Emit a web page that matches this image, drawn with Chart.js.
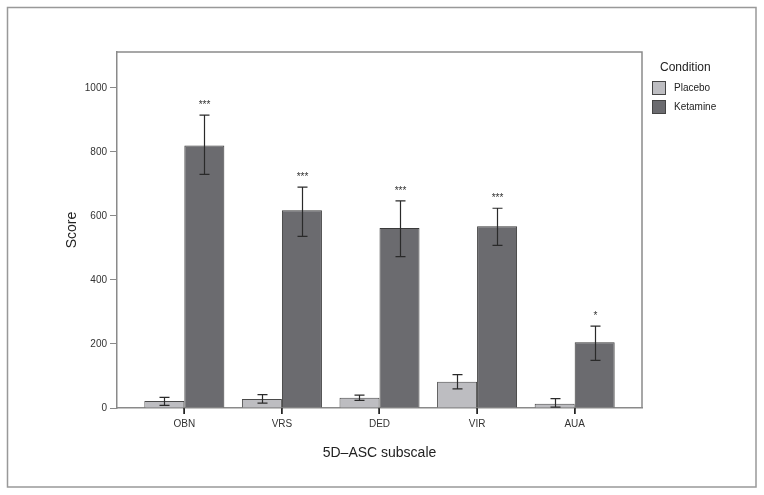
<!DOCTYPE html>
<html>
<head>
<meta charset="utf-8">
<script src="https://cdn.jsdelivr.net/npm/chart.js@4"></script>
<style>
  html, body { margin: 0; padding: 0; background: #fff; }
  #wrap { width: 764px; height: 495px; }
</style>
</head>
<body>
<div id="wrap"><canvas id="chart" width="764" height="495"></canvas></div>
<script>
// 5D-ASC subscale scores, placebo vs ketamine (mean with error bars)
const subscales = ['OBN', 'VRS', 'DED', 'VIR', 'AUA'];

const placebo    = [22, 28, 32, 82, 13];
const placeboLo  = [8, 15, 24, 60, 3];
const placeboHi  = [33, 42, 40, 104, 29];

const ketamine   = [820, 618, 562, 568, 205];
const ketamineLo = [730, 536, 473, 508, 149];
const ketamineHi = [915, 690, 647, 624, 256];

const signif     = ['***', '***', '***', '***', '*'];

const yTicks = [0, 200, 400, 600, 800, 1000];

const FONT = 'Liberation Sans, Arial, sans-serif';
const AXIS_GREY = '#8a8a8a';

const errBounds = [
  { lo: placeboLo, hi: placeboHi, marks: null },
  { lo: ketamineLo, hi: ketamineHi, marks: signif }
];

// --- frame, plot box, error bars, stars, legend ---
const decor = {
  id: 'decor',
  beforeDraw(chart) {
    const c = chart.ctx;
    c.save();
    c.strokeStyle = '#999';
    c.lineWidth = 1.5;
    c.strokeRect(7.5, 7.5, 748.5, 479.5);
    c.restore();
  },
  afterDatasetsDraw(chart) {
    const c = chart.ctx;
    const y = chart.scales.y;
    c.save();
    chart.data.datasets.forEach((ds, di) => {
      const meta = chart.getDatasetMeta(di);
      const eb = errBounds[di];
      meta.data.forEach((bar, i) => {
        const x = Math.round(bar.x) + 0.5;
        const yl = y.getPixelForValue(eb.lo[i]);
        const yh = y.getPixelForValue(eb.hi[i]);
        c.strokeStyle = '#2a2a2a';
        c.lineWidth = 1.2;
        c.beginPath();
        c.moveTo(x, yl); c.lineTo(x, yh);
        c.moveTo(x - 5, yl); c.lineTo(x + 5, yl);
        c.moveTo(x - 5, yh); c.lineTo(x + 5, yh);
        c.stroke();
        if (eb.marks) {
          c.fillStyle = '#333';
          c.font = '10px ' + FONT;
          c.textAlign = 'center';
          c.textBaseline = 'middle';
          c.fillText(eb.marks[i], x, yh - 10);
        }
      });
    });
    c.restore();
  },
  afterDraw(chart) {
    const c = chart.ctx;
    const a = chart.chartArea;
    const xs = chart.scales.x;
    c.save();
    // top and right of the plot box
    c.strokeStyle = AXIS_GREY;
    c.lineWidth = 1.5;
    c.beginPath();
    c.moveTo(a.left, a.top); c.lineTo(a.right, a.top); c.lineTo(a.right, a.bottom);
    c.stroke();

    // category tick marks under the x axis
    c.strokeStyle = '#222';
    c.lineWidth = 1.5;
    c.beginPath();
    subscales.forEach((_, i) => {
      const px = Math.round(xs.getPixelForValue(i + 1));
      c.moveTo(px, a.bottom);
      c.lineTo(px, a.bottom + 6);
    });
    c.stroke();

    // legend
    c.fillStyle = '#222';
    c.font = '12px ' + FONT;
    c.textAlign = 'left';
    c.textBaseline = 'middle';
    c.fillText('Condition', 660, 68);
    c.font = '10px ' + FONT;
    chart.data.datasets.forEach((ds, i) => {
      const top = 81 + i * 19;
      c.fillStyle = ds.backgroundColor;
      c.fillRect(652, top, 14, 14);
      c.strokeStyle = '#444';
      c.lineWidth = 1;
      c.strokeRect(652.5, top + 0.5, 13, 13);
      c.fillStyle = '#222';
      c.fillText(ds.label, 674, top + 7.5);
    });
    c.restore();
  }
};

const toPoints = (vals) => vals.map((v, i) => ({ x: i + 1, y: v }));

new Chart(document.getElementById('chart'), {
  type: 'bar',
  data: {
    datasets: [
      { label: 'Placebo', data: toPoints(placebo), backgroundColor: '#bdbdc1', borderColor: '#4a4a4a', borderWidth: 1 },
      { label: 'Ketamine', data: toPoints(ketamine), backgroundColor: '#6b6b6f', borderColor: '#3a3a3a', borderWidth: 1 }
    ]
  },
  options: {
    responsive: false,
    animation: false,
    events: [],
    layout: { padding: { left: 60, top: 52, right: 122, bottom: 29 } },
    datasets: { bar: { categoryPercentage: 0.82, barPercentage: 1.0 } },
    plugins: { legend: { display: false }, tooltip: { enabled: false } },
    scales: {
      x: {
        type: 'linear',
        min: 0.31,
        max: 5.69,
        offset: false,
        afterBuildTicks: (s) => { s.ticks = subscales.map((_, i) => ({ value: i + 1 })); },
        afterFit: (s) => { s.height = 58; },
        ticks: {
          autoSkip: false,
          maxRotation: 0,
          padding: 4,
          color: '#333',
          font: { family: FONT, size: 10 },
          callback: (v) => subscales[v - 1] ?? ''
        },
        grid: { offset: false, drawOnChartArea: false, tickLength: 6, tickColor: '#333', tickWidth: 1 },
        border: { display: true, color: AXIS_GREY, width: 1.5 },
        title: { display: true, text: '5D\u2013ASC subscale', color: '#222', font: { family: FONT, size: 14 }, padding: { top: 4, bottom: 4 } }
      },
      y: {
        min: 0,
        max: 1112,
        afterBuildTicks: (s) => { s.ticks = yTicks.map(v => ({ value: v })); },
        afterFit: (s) => { s.width = 57; },
        ticks: {
          padding: 3,
          color: '#333',
          font: { family: FONT, size: 10 },
          callback: (v) => String(v)
        },
        grid: { drawOnChartArea: false, tickLength: 7, tickColor: AXIS_GREY, tickWidth: 1 },
        border: { display: true, color: AXIS_GREY, width: 1.5 },
        title: { display: true, text: 'Score', color: '#222', font: { family: FONT, size: 14 }, padding: { top: 4, bottom: 4 } }
      }
    }
  },
  plugins: [decor]
});
</script>
</body>
</html>
